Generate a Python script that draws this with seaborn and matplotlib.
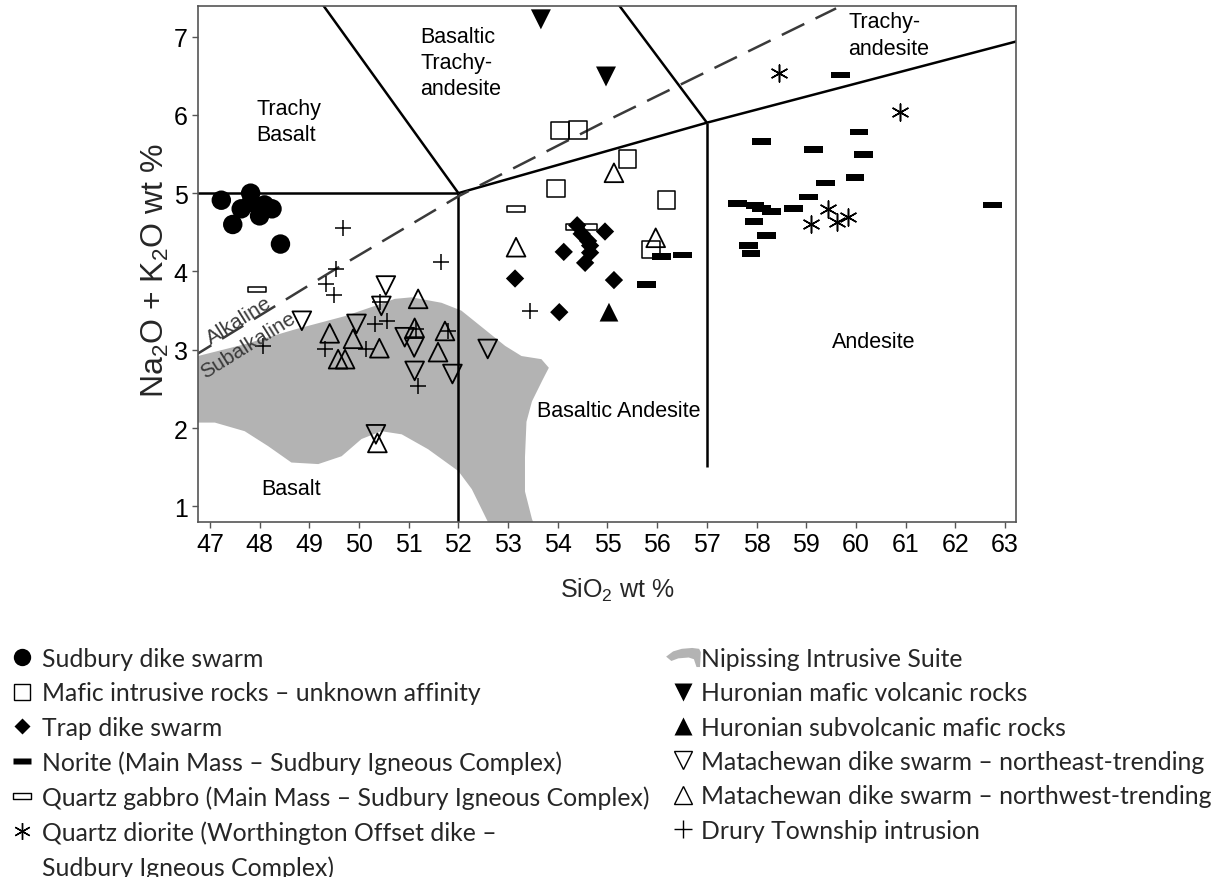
import matplotlib
matplotlib.use("Agg")
import matplotlib.pyplot as plt
from matplotlib.lines import Line2D
from matplotlib.path import Path
import seaborn as sns

# TAS field boundaries (SiO2 wt %, Na2O + K2O wt %)
bound_x = [[46.5, 52.0], [52.0, 52.0], [49.2, 52.0], [52.0, 57.0, 63.3], [57.0, 57.0], [55.15, 57.0]]
bound_y = [[5.0, 5.0], [0.5, 5.0], [7.47, 5.0], [5.0, 5.9, 6.95], [1.5, 5.9], [7.47, 5.9]]

# alkaline / subalkaline divide
alk_x = [46.6, 49.5, 52.0, 55.0, 59.6]
alk_y = [2.89, 4.02, 4.96, 5.93, 7.36]

# Nipissing Intrusive Suite field
nip_x = [46.5, 46.76, 47.70, 48.71, 49.72, 50.32, 50.72, 51.06, 51.66, 52.06, 52.53, 52.94,
         53.27, 53.67, 53.82, 53.69, 53.48, 53.37, 53.34, 53.34, 53.48, 53.62,
         52.75, 52.27, 52.00, 51.39, 50.86, 50.45, 50.05, 49.65, 49.18, 48.64, 48.17,
         47.70, 47.10, 46.76, 46.5]
nip_y = [2.92, 2.92, 3.07, 3.26, 3.43, 3.56, 3.65, 3.67, 3.60, 3.50, 3.26, 3.05,
         2.92, 2.88, 2.77, 2.61, 2.34, 2.08, 1.63, 1.19, 0.84, 0.60,
         0.60, 1.22, 1.45, 1.73, 1.92, 1.96, 1.86, 1.64, 1.54, 1.56, 1.77,
         1.96, 2.07, 2.07, 2.07]

sudbury_x = [47.23, 47.46, 47.63, 47.82, 47.83, 48.00, 48.10, 48.25, 48.42]
sudbury_y = [4.91, 4.60, 4.80, 5.00, 4.88, 4.71, 4.85, 4.80, 4.35]

mafic_x = [54.04, 54.41, 55.40, 53.96, 56.19, 55.87]
mafic_y = [5.80, 5.81, 5.44, 5.06, 4.91, 4.28]

trap_x = [54.39, 54.95, 54.48, 54.61, 54.12, 54.65, 54.55, 53.14, 55.13, 54.03, 54.65]
trap_y = [4.59, 4.51, 4.48, 4.39, 4.25, 4.24, 4.11, 3.91, 3.89, 3.48, 4.33]

norite_x = [56.09, 56.51, 55.79, 59.69, 58.10, 59.14, 60.06, 60.15, 59.98, 59.39, 59.05,
            58.74, 57.62, 57.97, 58.10, 58.30, 57.95, 58.20, 57.83, 57.89, 62.74]
norite_y = [4.19, 4.21, 3.83, 6.51, 5.66, 5.56, 5.78, 5.49, 5.20, 5.13, 4.95,
            4.80, 4.87, 4.84, 4.80, 4.77, 4.64, 4.46, 4.33, 4.23, 4.85]

qgabbro_x = [47.95, 53.16, 54.34, 54.61]
qgabbro_y = [3.77, 4.80, 4.57, 4.57]

qdiorite_x = [58.45, 60.88, 59.44, 59.09, 59.61, 59.84]
qdiorite_y = [6.53, 6.04, 4.80, 4.60, 4.63, 4.70]

hvolc_x = [53.66, 54.97]
hvolc_y = [7.22, 6.49]

hsub_x = [55.03]
hsub_y = [3.48]

mat_ne_x = [50.54, 50.45, 49.95, 50.92, 51.11, 51.12, 51.88, 50.34, 48.85, 52.59]
mat_ne_y = [3.82, 3.56, 3.33, 3.16, 3.03, 2.73, 2.69, 1.92, 3.37, 3.01]

mat_nw_x = [51.19, 49.41, 49.88, 50.41, 51.12, 51.73, 51.59, 49.58, 49.72, 50.37, 53.16, 55.13, 55.97]
mat_nw_y = [3.65, 3.21, 3.14, 3.02, 3.28, 3.24, 2.97, 2.88, 2.88, 1.81, 4.31, 5.26, 4.43]

drury_x = [49.68, 49.54, 49.34, 49.49, 51.66, 50.32, 50.57, 50.15, 49.31, 51.15, 51.80,
           51.19, 50.42, 48.07, 53.44]
drury_y = [4.56, 4.03, 3.84, 3.70, 4.12, 3.33, 3.37, 3.01, 3.01, 3.27, 3.24,
           2.54, 3.61, 3.05, 3.50]

# field names
field_names = ["Trachy\nBasalt", "Basaltic\nTrachy-\nandesite", "Trachy-\nandesite",
               "Andesite", "Basaltic Andesite", "Basalt"]
field_x = [47.94, 51.23, 59.85, 60.36, 55.23, 48.64]
field_y = [5.91, 6.67, 7.02, 3.10, 2.23, 1.23]
field_ha = ["left", "left", "left", "center", "center", "center"]

labels_left = ["Sudbury dike swarm",
               "Mafic intrusive rocks \u2013 unknown affinity",
               "Trap dike swarm",
               "Norite (Main Mass \u2013 Sudbury Igneous Complex)",
               "Quartz gabbro (Main Mass \u2013 Sudbury Igneous Complex)",
               "Quartz diorite (Worthington Offset dike \u2013",
               "Sudbury Igneous Complex)"]
labels_right = ["Nipissing Intrusive Suite",
                "Huronian mafic volcanic rocks",
                "Huronian subvolcanic mafic rocks",
                "Matachewan dike swarm \u2013 northeast-trending",
                "Matachewan dike swarm \u2013 northwest-trending",
                "Drury Township intrusion"]

bar = Path([(-1, -0.36), (1, -0.36), (1, 0.36), (-1, 0.36), (-1, -0.36)],
           [Path.MOVETO, Path.LINETO, Path.LINETO, Path.LINETO, Path.CLOSEPOLY])
thin_bar = Path([(-1, -0.32), (1, -0.32), (1, 0.32), (-1, 0.32), (-1, -0.32)],
                [Path.MOVETO, Path.LINETO, Path.LINETO, Path.LINETO, Path.CLOSEPOLY])
blob_v = [(-1.0, 0.05), (-0.6, 0.35), (-0.1, 0.5), (0.5, 0.55), (0.9, 0.5), (1.0, 0.3),
          (0.95, -0.55), (0.75, -0.55), (0.6, -0.1), (0.3, 0.0), (-0.3, -0.05), (-0.7, -0.2),
          (-1.0, 0.05)]
blob = Path(blob_v, [Path.MOVETO] + [Path.LINETO] * (len(blob_v) - 2) + [Path.CLOSEPOLY])

grey = "#b3b3b3"

sns.set_theme(style="ticks")
plt.rcParams["font.family"] = ["Liberation Sans", "DejaVu Sans"]
plt.rcParams["mathtext.fontset"] = "custom"
plt.rcParams["mathtext.rm"] = "Liberation Sans"
plt.rcParams["mathtext.it"] = "Liberation Sans:italic"
plt.rcParams["mathtext.bf"] = "Liberation Sans:bold"

fig = plt.figure(figsize=(12.25, 8.78), dpi=100)
ax = fig.add_axes([0.1616, 0.4043, 0.6678, 0.5877])

# Nipissing field
ax.fill(nip_x, nip_y, color=grey, lw=0, zorder=1)

# field boundaries
for bx, by in zip(bound_x, bound_y):
    ax.plot(bx, by, color="black", lw=1.8, zorder=2, solid_capstyle="butt")
ax.plot(alk_x, alk_y, color="#3a3a3a", lw=1.8, dashes=(10, 5), zorder=2)

# samples
sns.scatterplot(x=sudbury_x, y=sudbury_y, ax=ax, marker="o", s=196, color="black",
                edgecolor="none", zorder=3)
sns.scatterplot(x=mafic_x, y=mafic_y, ax=ax, marker="s", s=161, facecolor="none",
                edgecolor="black", linewidth=1.1, zorder=3)
sns.scatterplot(x=trap_x, y=trap_y, ax=ax, marker="D", s=87, color="black",
                edgecolor="none", zorder=3)
sns.scatterplot(x=norite_x, y=norite_y, ax=ax, marker=bar, s=182, color="black",
                edgecolor="none", zorder=3)
sns.scatterplot(x=qgabbro_x, y=qgabbro_y, ax=ax, marker=thin_bar, s=170, facecolor="none",
                edgecolor="black", linewidth=1.1, zorder=3)
sns.scatterplot(x=qdiorite_x, y=qdiorite_y, ax=ax, marker=(6, 2, 0), s=150, color="black",
                linewidth=1.1, zorder=3)
sns.scatterplot(x=hvolc_x, y=hvolc_y, ax=ax, marker="v", s=207, color="black",
                edgecolor="none", zorder=3)
sns.scatterplot(x=hsub_x, y=hsub_y, ax=ax, marker="^", s=182, color="black",
                edgecolor="none", zorder=3)
sns.scatterplot(x=mat_ne_x, y=mat_ne_y, ax=ax, marker="v", s=182, facecolor="none",
                edgecolor="black", linewidth=1.3, zorder=3)
sns.scatterplot(x=mat_nw_x, y=mat_nw_y, ax=ax, marker="^", s=182, facecolor="none",
                edgecolor="black", linewidth=1.3, zorder=3)
sns.scatterplot(x=drury_x, y=drury_y, ax=ax, marker="+", s=121, color="black",
                linewidth=1.1, zorder=3)

# field names
for name, fx, fy, ha in zip(field_names, field_x, field_y, field_ha):
    ax.text(fx, fy, name, ha=ha, va="center", fontsize=15.5, color="black",
            linespacing=1.32, zorder=4)
ax.text(47.58, 3.38, "Alkaline", rotation=32, ha="center", va="center", fontsize=15,
        color="#3a3a3a", rotation_mode="anchor", zorder=4)
ax.text(47.77, 3.06, "Subalkaline", rotation=32, ha="center", va="center", fontsize=15,
        color="#3a3a3a", rotation_mode="anchor", zorder=4)

ax.set_xlim(46.76, 63.22)
ax.set_ylim(0.80, 7.39)
ax.set_xticks(range(47, 64))
ax.set_yticks(range(1, 8))
ax.tick_params(axis="both", labelsize=18, length=4.5, width=1.0, color="#555555",
               pad=3, labelcolor="black")
for sp in ax.spines.values():
    sp.set_color("#555555")
    sp.set_linewidth(1.2)
ax.set_xlabel("SiO$_2$ wt %", fontsize=18)
ax.set_ylabel("Na$_2$O + K$_2$O wt %", fontsize=23)
ax.xaxis.label.set_va("center")
ax.yaxis.label.set_va("center")
ax.xaxis.set_label_coords(0.512, -0.13)
ax.yaxis.set_label_coords(-0.052, 0.49)

# legend
leg_font = {"family": ["Lato", "DejaVu Sans"], "size": 17.8}
left_handles = [
    Line2D([], [], ls="none", marker="o", ms=12.5, mfc="black", mec="none"),
    Line2D([], [], ls="none", marker="s", ms=11.5, mfc="none", mec="black", mew=1.0),
    Line2D([], [], ls="none", marker="D", ms=8.5, mfc="black", mec="none"),
    Line2D([], [], ls="none", marker=bar, ms=13, mfc="black", mec="none"),
    Line2D([], [], ls="none", marker=thin_bar, ms=13, mfc="none", mec="black", mew=1.0),
    Line2D([], [], ls="none", marker=(6, 2, 0), ms=12, color="black", mew=1.0),
    Line2D([], [], ls="none", marker="none"),
]
right_handles = [
    Line2D([], [], ls="none", marker=blob, ms=25, mfc=grey, mec="none"),
    Line2D([], [], ls="none", marker="v", ms=12.5, mfc="black", mec="none"),
    Line2D([], [], ls="none", marker="^", ms=12.5, mfc="black", mec="none"),
    Line2D([], [], ls="none", marker="v", ms=13, mfc="none", mec="black", mew=1.0),
    Line2D([], [], ls="none", marker="^", ms=13, mfc="none", mec="black", mew=1.0),
    Line2D([], [], ls="none", marker="+", ms=13, color="black", mew=1.0),
]
fig.legend(left_handles, labels_left, loc="upper left", bbox_to_anchor=(0.0079, 0.262),
           frameon=False, borderpad=0, borderaxespad=0, handlelength=1.0,
           handletextpad=0.31, labelspacing=0.46, prop=leg_font)
fig.legend(right_handles, labels_right, loc="upper left", bbox_to_anchor=(0.5449, 0.262),
           frameon=False, borderpad=0, borderaxespad=0, handlelength=1.25,
           handletextpad=0.1, labelspacing=0.46, prop=leg_font)

fig.savefig("out.png", dpi=100)
